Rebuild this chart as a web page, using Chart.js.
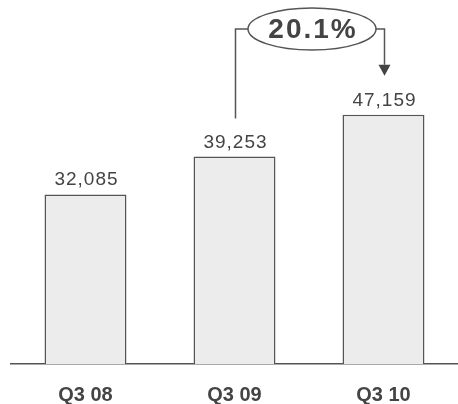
<!DOCTYPE html>
<html>
<head>
<meta charset="utf-8">
<script src="https://cdn.jsdelivr.net/npm/chart.js@4/dist/chart.umd.min.js"></script>
<style>
html,body{margin:0;padding:0;background:#fff;}
#wrap{width:458px;height:404px;position:relative;}
</style>
</head>
<body>
<div id="wrap"><canvas id="c" width="458" height="404"></canvas></div>
<script>
const categories = ["Q3 08", "Q3 09", "Q3 10"];
const revenue = [32085, 39253, 47159];
const growthLabel = "20.1%";

const FONT = "'Liberation Sans', Arial, sans-serif";

const valueLabels = {
  id: 'valueLabels',
  afterDatasetsDraw(chart) {
    const ctx = chart.ctx;
    const meta = chart.getDatasetMeta(0);
    ctx.save();
    ctx.font = "19px " + FONT;
    ctx.letterSpacing = "1px";
    ctx.fillStyle = "#444";
    ctx.textAlign = "center";
    ctx.textBaseline = "alphabetic";
    meta.data.forEach((bar, i) => {
      ctx.fillText(revenue[i].toLocaleString('en-US'), bar.x + 1, bar.y - 9);
    });
    ctx.restore();
  }
};

const growthAnnotation = {
  id: 'growthAnnotation',
  afterDraw(chart) {
    const ctx = chart.ctx;
    const meta = chart.getDatasetMeta(0);
    const b2 = meta.data[1], b3 = meta.data[2];
    const lx = b2.x + 1, rx = b3.x + 1;
    const cy = 29, cx = (lx + rx) / 2 + 2;
    const erx = 64, ery = 21;
    ctx.save();
    ctx.strokeStyle = "#555";
    ctx.lineWidth = 1.5;
    ctx.beginPath();
    ctx.moveTo(lx, b2.y - 38);
    ctx.lineTo(lx, cy);
    ctx.lineTo(cx - erx, cy);
    ctx.stroke();
    ctx.beginPath();
    ctx.moveTo(cx + erx, cy);
    ctx.lineTo(rx, cy);
    ctx.lineTo(rx, b3.y - 50);
    ctx.stroke();
    ctx.fillStyle = "#444";
    ctx.beginPath();
    ctx.moveTo(rx - 6, b3.y - 50);
    ctx.lineTo(rx + 6, b3.y - 50);
    ctx.lineTo(rx, b3.y - 39);
    ctx.closePath();
    ctx.fill();
    ctx.fillStyle = "#fff";
    ctx.beginPath();
    ctx.ellipse(cx, cy, erx, ery, 0, 0, Math.PI * 2);
    ctx.fill();
    ctx.stroke();
    ctx.fillStyle = "#444";
    ctx.font = "bold 28px " + FONT;
    ctx.letterSpacing = "2px";
    ctx.textAlign = "center";
    ctx.textBaseline = "middle";
    ctx.fillText(growthLabel, cx + 1, cy + 1);
    ctx.restore();
  }
};

new Chart(document.getElementById('c'), {
  type: 'bar',
  data: {
    labels: categories,
    datasets: [{
      data: revenue,
      backgroundColor: '#ececec',
      borderColor: '#555',
      borderWidth: {top: 1.5, left: 1.5, right: 1.5, bottom: 0},
      borderSkipped: false,
      barPercentage: 0.55,
      categoryPercentage: 1.0
    }]
  },
  options: {
    responsive: false,
    animation: false,
    layout: { padding: { top: 47, left: 11, right: 0, bottom: -22 } },
    plugins: { legend: { display: false }, tooltip: { enabled: false } },
    scales: {
      x: {
        grid: { display: false, drawTicks: false },
        border: { display: true, color: '#555', width: 1.5 },
        ticks: { color: '#444', font: { family: FONT, size: 20, weight: 'bold' }, padding: 19 }
      },
      y: {
        display: false,
        min: 0,
        max: 60000
      }
    }
  },
  plugins: [valueLabels, growthAnnotation]
});
</script>
</body>
</html>
